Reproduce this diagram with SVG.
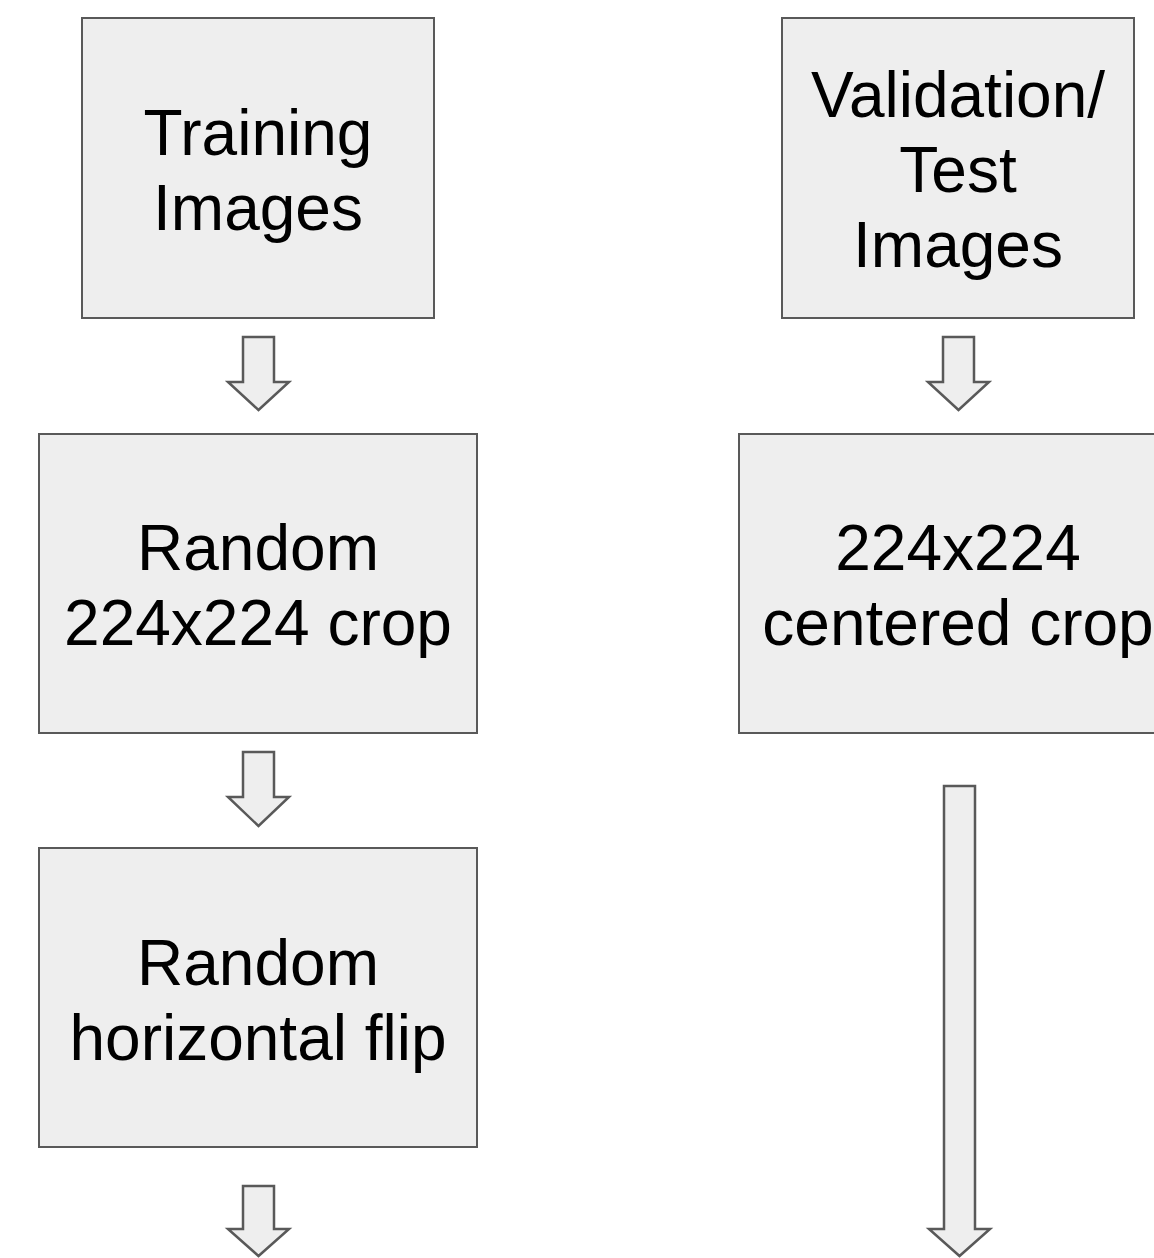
<svg xmlns="http://www.w3.org/2000/svg" width="1154" height="1258" viewBox="0 0 1154 1258">
<style>
.box{fill:#eeeeee;stroke:#595959;stroke-width:2}
.arr{fill:#eeeeee;stroke:#595959;stroke-width:2.5;stroke-linejoin:miter}
.t{font-family:"Liberation Sans",Arial,sans-serif;font-size:64px;fill:#000;text-anchor:middle}
</style>
<rect width="1154" height="1258" fill="#ffffff"/>
<g id="training">
<rect class="box" x="82" y="18" width="352" height="300"/>
<text class="t" x="258" y="155">Training</text>
<text class="t" x="258" y="230">Images</text>
</g>
<g id="validation">
<rect class="box" x="782" y="18" width="352" height="300"/>
<text class="t" x="958" y="117">Validation/</text>
<text class="t" x="958" y="192">Test</text>
<text class="t" x="958" y="267">Images</text>
</g>
<g id="randomcrop">
<rect class="box" x="39" y="434" width="438" height="299"/>
<text class="t" x="258" y="570">Random</text>
<text class="t" x="258" y="645">224x224 crop</text>
</g>
<g id="centeredcrop">
<rect class="box" x="739" y="434" width="438" height="299"/>
<text class="t" x="958" y="570">224x224</text>
<text class="t" x="958" y="645">centered crop</text>
</g>
<g id="flip">
<rect class="box" x="39" y="848" width="438" height="299"/>
<text class="t" x="258" y="985">Random</text>
<text class="t" x="258" y="1060">horizontal flip</text>
</g>
<g id="connectors">
<path class="arr" d="M243,337 H274 V382 H289 L258.5,410 L228,382 H243 Z"/>
<path class="arr" d="M943,337 H974 V382 H989 L958.5,410 L928,382 H943 Z"/>
<path class="arr" d="M243,752 H274 V797 H289 L258.5,826 L228,797 H243 Z"/>
<path class="arr" d="M243,1186 H274 V1229 H289 L258.5,1256 L228,1229 H243 Z"/>
<path class="arr" d="M944,786 H975 V1229 H990 L959.5,1256 L929,1229 H944 Z"/>
</g>
</svg>
